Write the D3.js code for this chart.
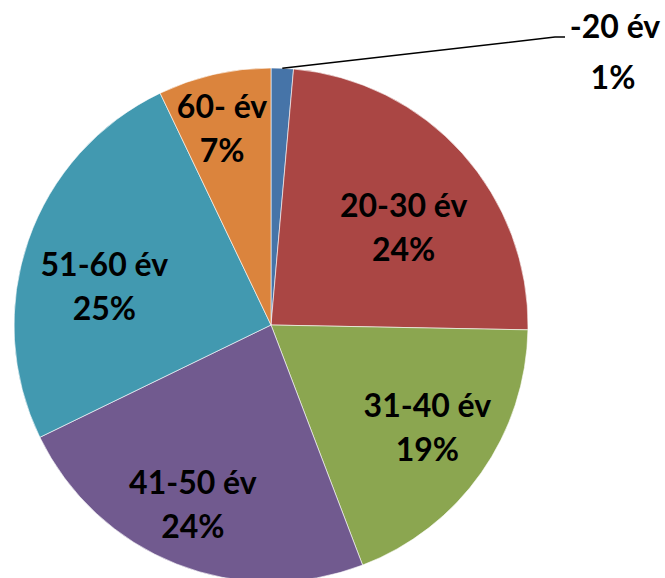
<!DOCTYPE html>
<meta charset="utf-8">
<html>
<head>
  <style>
    body { margin: 0; background: #fff; }
    svg { display: block; }
    .lbl { font-family: Lato, "Open Sans", sans-serif; font-weight: bold; font-size: 32px; fill: #000; text-anchor: middle; }
  </style>
</head>
<body>
<svg width="665" height="578"></svg>
<script src="https://d3js.org/d3.v7.min.js"></script>
<script>
  const categories = ["-20 év", "20-30 év", "31-40 év", "41-50 év", "51-60 év", "60- év"];
  const values = [1.4, 23.9, 18.9, 23.6, 25.1, 7.1];
  const colors = ["#4674A8", "#AA4644", "#8BA650", "#715A8F", "#4299B0", "#DB843D"];
  // small best-fit nudges for the inside labels, like the spreadsheet does
  const labelNudge = [[0, 0], [-5, 26], [5, -4], [-10, 7], [8, 23], [-8, -16]];

  const data = categories.map((c, i) => ({ cat: c, value: values[i] }));
  const total = d3.sum(values);

  const svg = d3.select("svg");
  const cx = 271, cy = 325, r = 257;
  const g = svg.append("g").attr("transform", `translate(${cx},${cy})`);

  const pie = d3.pie().value(d => d.value).sort(null);
  const arcs = pie(data);
  const arc = d3.arc().innerRadius(0).outerRadius(r);
  const labelArc = d3.arc().innerRadius(r * 0.72).outerRadius(r * 0.72);

  g.selectAll("path")
    .data(arcs)
    .enter().append("path")
    .attr("d", arc)
    .attr("fill", (d, i) => colors[i])
    .attr("stroke", "#fff")
    .attr("stroke-width", 0.6);

  const pct = d => Math.round(d.data.value / total * 100) + "%";

  // inside labels (all but the tiny first slice)
  const inside = g.selectAll("text.in")
    .data(arcs.filter(d => d.index > 0))
    .enter().append("text")
    .attr("class", "lbl in")
    .attr("transform", d => {
      const c = labelArc.centroid(d), n = labelNudge[d.index];
      return `translate(${c[0] + n[0]},${c[1] + n[1]})`;
    });
  inside.append("tspan").attr("x", 0).attr("y", -10.5).text(d => d.data.cat);
  inside.append("tspan").attr("x", 0).attr("y", 33.5).text(pct);

  // outside label with leader line for the smallest slice
  const small = arcs[0];
  const a0 = (small.startAngle + small.endAngle) / 2;
  const p0 = [Math.sin(a0) * r, -Math.cos(a0) * r];
  const p1 = [555 - cx, 37 - cy];
  const p2 = [565 - cx, 37 - cy];
  g.append("polyline")
    .attr("points", [p0, p1, p2].map(p => p.join(",")).join(" "))
    .attr("fill", "none")
    .attr("stroke", "#000")
    .attr("stroke-width", 1.5);
  const out = svg.append("text").attr("class", "lbl");
  out.append("tspan").attr("x", 615).attr("y", 37.5).text(small.data.cat);
  out.append("tspan").attr("x", 613).attr("y", 88.5).text(pct(small));
</script>
</body>
</html>
